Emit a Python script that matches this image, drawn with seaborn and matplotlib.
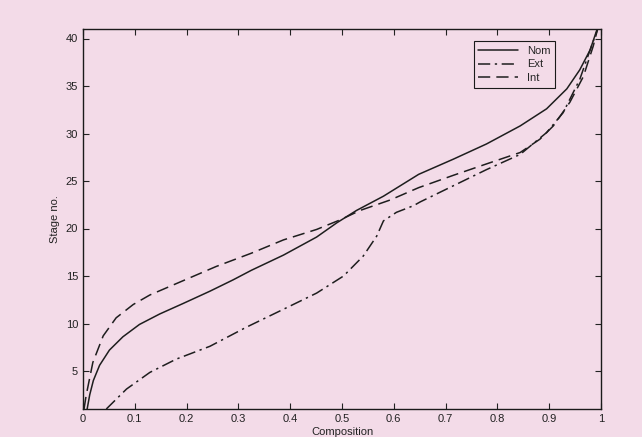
import numpy as np
import pandas as pd
import matplotlib
matplotlib.use("Agg")
import matplotlib.pyplot as plt
import seaborn as sns

# ---- data ----
nom_x = [0.008, 0.013, 0.020, 0.032, 0.051, 0.077, 0.109, 0.148, 0.193, 0.245,
         0.29, 0.325, 0.387, 0.451, 0.49, 0.528, 0.58, 0.648, 0.715, 0.779,
         0.844, 0.895, 0.934, 0.959, 0.979, 0.992]
nom_y = [1.0, 2.5, 4.0, 5.6, 7.2, 8.6, 9.9, 11.0, 12.1, 13.4,
         14.6, 15.6, 17.2, 19.1, 20.6, 21.9, 23.4, 25.7, 27.3, 28.9,
         30.8, 32.6, 34.7, 36.7, 38.8, 40.9]

int_x = [0.002, 0.006, 0.019, 0.039, 0.064, 0.097, 0.129, 0.193, 0.257, 0.325,
         0.387, 0.451, 0.496, 0.535, 0.593, 0.648, 0.715, 0.779, 0.844, 0.882,
         0.908, 0.94, 0.966, 0.985, 0.993]
int_y = [1.0, 2.4, 5.9, 8.7, 10.6, 12.0, 13.0, 14.5, 16.0, 17.4,
         18.8, 19.9, 20.9, 21.9, 23.0, 24.3, 25.6, 26.8, 28.0, 29.4,
         30.8, 33.3, 36.0, 39.2, 40.9]

ext_x = [0.045, 0.084, 0.129, 0.18, 0.245, 0.315, 0.387, 0.451, 0.503, 0.541,
         0.567, 0.58, 0.605, 0.638, 0.651, 0.715, 0.779, 0.844, 0.895, 0.927,
         0.959, 0.979, 0.993]
ext_y = [1.0, 3.1, 4.85, 6.25, 7.6, 9.6, 11.5, 13.2, 15.0, 17.1,
         19.2, 20.8, 21.7, 22.4, 22.8, 24.5, 26.2, 27.8, 30.1, 32.2,
         35.7, 38.8, 40.9]

x_ticks = [0, 0.1, 0.2, 0.3, 0.4, 0.5, 0.6, 0.7, 0.8, 0.9, 1]
x_tick_labels = ["0", "0.1", "0.2", "0.3", "0.4", "0.5", "0.6", "0.7", "0.8", "0.9", "1"]
y_ticks = [5, 10, 15, 20, 25, 30, 35, 40]

# ---- style ----
sns.set_style("ticks")
bg = "#f3dbe8"
plt.rcParams["font.family"] = ["Liberation Sans", "DejaVu Sans"]
plt.rcParams["font.size"] = 8

fig = plt.figure(figsize=(6.42, 4.37), dpi=100, facecolor=bg)
ax = fig.add_axes([83 / 642, 1 - 409 / 437, (601 - 83) / 642, (409 - 29) / 437])
ax.set_facecolor(bg)

lc = "#1e1e1e"
sns.lineplot(x=nom_x, y=nom_y, ax=ax, color=lc, linewidth=1.1, linestyle="-",
             label="Nom", estimator=None, sort=False)
sns.lineplot(x=ext_x, y=ext_y, ax=ax, color=lc, linewidth=1.1,
             label="Ext", estimator=None, sort=False)
sns.lineplot(x=int_x, y=int_y, ax=ax, color=lc, linewidth=1.1,
             label="Int", estimator=None, sort=False)
lines = ax.get_lines()
lines[1].set_dashes([8, 3, 1.5, 3])
lines[2].set_dashes([8, 4])

ax.set_xlim(0, 1)
ax.set_ylim(1, 41)
ax.set_xticks(x_ticks)
ax.set_xticklabels(x_tick_labels)
ax.set_yticks(y_ticks)
ax.tick_params(direction="in", top=True, right=True, length=4, width=0.8,
               colors="#222222", labelsize=8)
for s in ax.spines.values():
    s.set_visible(True)
    s.set_linewidth(1.0)
    s.set_color("#1a1a1a")

ax.set_xlabel("Composition", fontsize=8, labelpad=2, color="#222222")
ax.set_ylabel("Stage no.", fontsize=8, labelpad=4, color="#222222")

leg = ax.legend(loc="upper right", bbox_to_anchor=(0.911, 0.968), fontsize=8,
                frameon=True, fancybox=False, edgecolor="#1a1a1a",
                facecolor=bg, framealpha=1, handlelength=3.6,
                borderpad=0.4, labelspacing=0.35, borderaxespad=0)
leg.get_frame().set_linewidth(0.8)

fig.savefig("out.png", dpi=100, facecolor=bg)
